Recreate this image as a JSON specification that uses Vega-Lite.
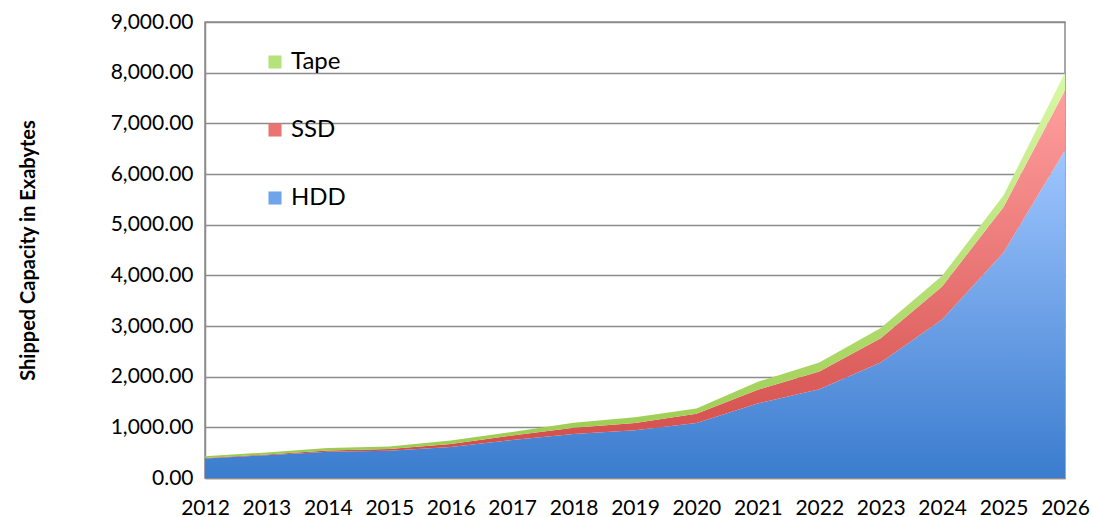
{
  "$schema": "https://vega.github.io/schema/vega-lite/v6.json",
  "width": 860,
  "height": 456,
  "autosize": {"type": "none"},
  "padding": {"left": 205, "top": 22, "right": 28, "bottom": 39},
  "background": "white",
  "config": {
    "view": {"stroke": "#8c8c8c", "strokeWidth": 1.5},
    "font": "Lato"
  },
  "data": {
    "values": [
      {"year": 2012, "series": "HDD", "capacity": 385},
      {"year": 2012, "series": "SSD", "capacity": 10},
      {"year": 2012, "series": "Tape", "capacity": 35},
      {"year": 2013, "series": "HDD", "capacity": 450},
      {"year": 2013, "series": "SSD", "capacity": 15},
      {"year": 2013, "series": "Tape", "capacity": 40},
      {"year": 2014, "series": "HDD", "capacity": 520},
      {"year": 2014, "series": "SSD", "capacity": 25},
      {"year": 2014, "series": "Tape", "capacity": 45},
      {"year": 2015, "series": "HDD", "capacity": 540},
      {"year": 2015, "series": "SSD", "capacity": 30},
      {"year": 2015, "series": "Tape", "capacity": 50},
      {"year": 2016, "series": "HDD", "capacity": 610},
      {"year": 2016, "series": "SSD", "capacity": 60},
      {"year": 2016, "series": "Tape", "capacity": 70},
      {"year": 2017, "series": "HDD", "capacity": 750},
      {"year": 2017, "series": "SSD", "capacity": 90},
      {"year": 2017, "series": "Tape", "capacity": 70},
      {"year": 2018, "series": "HDD", "capacity": 870},
      {"year": 2018, "series": "SSD", "capacity": 120},
      {"year": 2018, "series": "Tape", "capacity": 100},
      {"year": 2019, "series": "HDD", "capacity": 940},
      {"year": 2019, "series": "SSD", "capacity": 145},
      {"year": 2019, "series": "Tape", "capacity": 115},
      {"year": 2020, "series": "HDD", "capacity": 1085},
      {"year": 2020, "series": "SSD", "capacity": 185},
      {"year": 2020, "series": "Tape", "capacity": 100},
      {"year": 2021, "series": "HDD", "capacity": 1470},
      {"year": 2021, "series": "SSD", "capacity": 270},
      {"year": 2021, "series": "Tape", "capacity": 160},
      {"year": 2022, "series": "HDD", "capacity": 1750},
      {"year": 2022, "series": "SSD", "capacity": 350},
      {"year": 2022, "series": "Tape", "capacity": 180},
      {"year": 2023, "series": "HDD", "capacity": 2280},
      {"year": 2023, "series": "SSD", "capacity": 480},
      {"year": 2023, "series": "Tape", "capacity": 200},
      {"year": 2024, "series": "HDD", "capacity": 3130},
      {"year": 2024, "series": "SSD", "capacity": 650},
      {"year": 2024, "series": "Tape", "capacity": 210},
      {"year": 2025, "series": "HDD", "capacity": 4450},
      {"year": 2025, "series": "SSD", "capacity": 900},
      {"year": 2025, "series": "Tape", "capacity": 230},
      {"year": 2026, "series": "HDD", "capacity": 6470},
      {"year": 2026, "series": "SSD", "capacity": 1180},
      {"year": 2026, "series": "Tape", "capacity": 350}
    ]
  },
  "transform": [
    {"stack": "capacity", "groupby": ["year"], "sort": [{"field": "series", "order": "ascending"}], "as": ["y0", "y1"]}
  ],
  "encoding": {
    "x": {
      "field": "year",
      "type": "quantitative",
      "scale": {"domain": [2012, 2026], "nice": false, "zero": false},
      "axis": {
        "values": [2012, 2013, 2014, 2015, 2016, 2017, 2018, 2019, 2020, 2021, 2022, 2023, 2024, 2025, 2026],
        "format": "d",
        "title": null,
        "grid": false,
        "ticks": false,
        "domainColor": "#8c8c8c",
        "domainWidth": 1.5,
        "labelFontSize": 21,
        "labelColor": "#000000",
        "labelPadding": 19,
        "labelFlush": false
      }
    },
    "y": {
      "field": "y1",
      "type": "quantitative",
      "scale": {"domain": [0, 9000], "nice": false},
      "axis": {
        "values": [0, 1000, 2000, 3000, 4000, 5000, 6000, 7000, 8000, 9000],
        "format": ",.2f",
        "title": "Shipped Capacity in Exabytes",
        "titleFontSize": 20,
        "titleFontWeight": "bold",
        "titleColor": "#000000",
        "titlePadding": 72,
        "grid": true,
        "gridColor": "#8c8c8c",
        "gridWidth": 1.5,
        "ticks": false,
        "domainColor": "#8c8c8c",
        "domainWidth": 1.5,
        "labelFontSize": 21,
        "labelColor": "#000000",
        "labelPadding": 12
      }
    }
  },
  "layer": [
    {
      "transform": [{"filter": "datum.series === 'HDD'"}],
      "mark": {"type": "area", "fill": {"gradient": "linear", "x1": 0, "y1": 0, "x2": 0, "y2": 1, "stops": [{"offset": 0, "color": "#9fc6ff"}, {"offset": 1, "color": "#3b7cce"}]}},
      "encoding": {"y2": {"field": "y0"}}
    },
    {
      "transform": [{"filter": "datum.series === 'SSD'"}],
      "mark": {"type": "area", "fill": {"gradient": "linear", "x1": 0, "y1": 0, "x2": 0, "y2": 1, "stops": [{"offset": 0, "color": "#ff9f9f"}, {"offset": 1, "color": "#d24c49"}]}},
      "encoding": {"y2": {"field": "y0"}}
    },
    {
      "transform": [{"filter": "datum.series === 'Tape'"}],
      "mark": {"type": "area", "fill": {"gradient": "linear", "x1": 0, "y1": 0, "x2": 0, "y2": 1, "stops": [{"offset": 0, "color": "#d9f8a4"}, {"offset": 1, "color": "#9acb4f"}]}},
      "encoding": {"y2": {"field": "y0"}}
    },
    {
      "mark": {"type": "square", "opacity": 0},
      "encoding": {
        "color": {
          "field": "series",
          "type": "nominal",
          "scale": {"domain": ["Tape", "SSD", "HDD"], "range": ["#b5e27a", "#ea7472", "#6fa3ea"]},
          "legend": {
            "orient": "none",
            "legendX": 58,
            "legendY": 28,
            "title": null,
            "symbolType": "square",
            "symbolSize": 170,
            "symbolOpacity": 1,
            "symbolStrokeWidth": 0,
            "labelFontSize": 24,
            "labelColor": "#000000",
            "rowPadding": 44,
            "labelOffset": 4
          }
        }
      }
    }
  ]
}
